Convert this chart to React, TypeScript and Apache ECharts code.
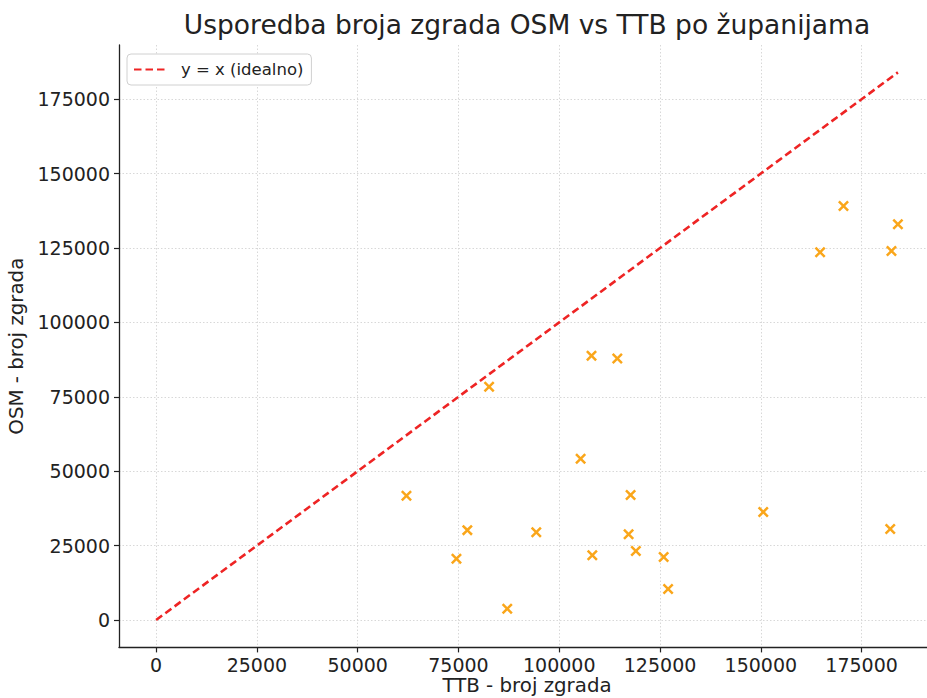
import React, { useEffect, useRef } from "react";
import * as echarts from "echarts";

const titleText = "Usporedba broja zgrada OSM vs TTB po županijama";
const xName = "TTB - broj zgrada";
const yName = "OSM - broj zgrada";
const legendName = "y = x (idealno)";

const ttb = [62100, 74500, 77200, 82600, 87100, 94300, 105300, 108000, 108200, 114400, 117700, 117200, 119000, 125900, 127000, 150600, 164700, 170500, 182100, 182400, 184000];
const osm = [41750, 20600, 30200, 78400, 3800, 29500, 54200, 88800, 21800, 87900, 42000, 28800, 23200, 21200, 10400, 36300, 123600, 139100, 30600, 124000, 133000];
const tickValues = [0, 25000, 50000, 75000, 100000, 125000, 150000, 175000];

const FONT = "DejaVu Sans";
const X_SYMBOL = "path://M0,16L16,0L50,34L84,0L100,16L66,50L100,84L84,100L50,66L16,100L0,84L34,50Z";

export default function App() {
  const ref = useRef<HTMLDivElement>(null);
  useEffect(() => {
    if (!ref.current) return;
    const chart = echarts.init(ref.current, null, { renderer: "svg" });
    const maxV = Math.max(...ttb, ...osm);
    const pad = maxV * 0.05;
    const axisCommon = {
      type: "value",
      min: -pad,
      max: maxV + pad,
      nameLocation: "middle",
      nameMoveOverlap: false,
      nameTextStyle: { fontFamily: FONT, fontSize: 19.8, color: "#222" },
      axisLine: { show: true, onZero: false, lineStyle: { color: "#222", width: 1.3 } },
      axisTick: { show: true, length: 5, lineStyle: { color: "#222", width: 1.2 }, customValues: tickValues },
      axisLabel: { fontFamily: FONT, fontSize: 19, color: "#222", customValues: tickValues, formatter: (v: number) => String(Math.round(v)) },
      splitLine: { show: true, lineStyle: { color: "#d8d8d8", type: [1.5, 2], width: 1 } },
    };
    chart.setOption({
      animation: false,
      backgroundColor: "#ffffff",
      title: {
        text: titleText,
        left: 527,
        top: 11,
        textAlign: "center",
        padding: 0,
        textStyle: { fontFamily: FONT, fontSize: 26.5, fontWeight: "normal", color: "#222" },
      },
      legend: {
        left: 127,
        top: 54,
        orient: "vertical",
        padding: [7, 8, 7, 6],
        itemWidth: 32,
        itemHeight: 14,
        backgroundColor: "#ffffff",
        borderColor: "#d0d0d0",
        borderWidth: 1,
        borderRadius: 4,
        itemStyle: { opacity: 0 },
        textStyle: { fontFamily: FONT, fontSize: 16.5, color: "#222", padding: [0, 0, 0, 10] },
        data: [legendName],
      },
      grid: { left: 119, top: 45, width: 816, height: 602.4, containLabel: false, outerBoundsMode: "none" },
      xAxis: { ...axisCommon, name: xName, nameGap: 28.5, axisLabel: { ...axisCommon.axisLabel, margin: 8 } },
      yAxis: { ...axisCommon, name: yName, nameGap: 93, axisLabel: { ...axisCommon.axisLabel, margin: 9 } },
      series: [
        {
          name: legendName,
          type: "line",
          data: [[0, 0], [maxV, maxV]],
          symbol: "none",
          lineStyle: { color: "#EE2424", width: 2.6, type: [7.5, 4] },
          itemStyle: { color: "#EE2424" },
          z: 3,
        },
        {
          name: "OSM vs TTB",
          type: "scatter",
          data: ttb.map((t, i) => [t, osm[i]]),
          symbol: X_SYMBOL,
          symbolSize: 11,
          itemStyle: { color: "#FAA61A", opacity: 1 },
          z: 4,
        },
      ],
    });
    return () => chart.dispose();
  }, []);
  return <div ref={ref} style={{ position: "absolute", left: 0, top: 0, width: 927, height: 698 }} />;
}
